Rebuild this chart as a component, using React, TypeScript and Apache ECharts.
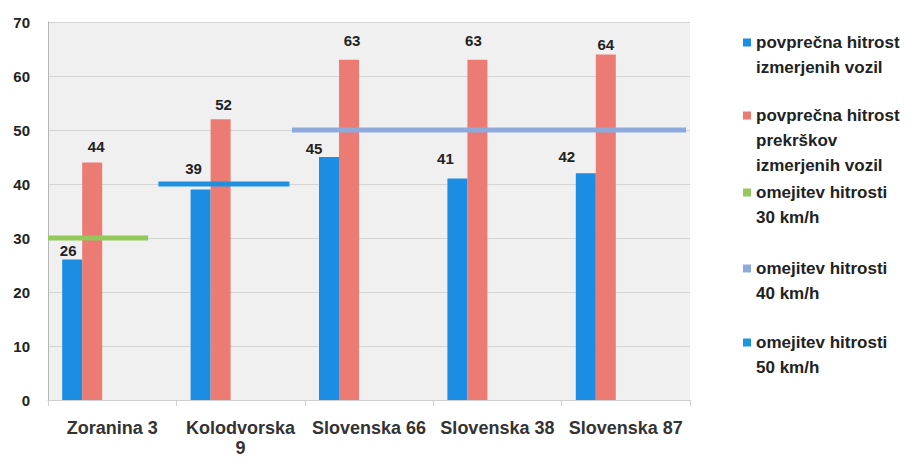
import React, { useEffect, useRef } from "react";
import * as echarts from "echarts";

const categories = ["Zoranina 3", "Kolodvorska 9", "Slovenska 66", "Slovenska 38", "Slovenska 87"];
const avgSpeed = [26, 39, 45, 41, 42];
const avgViolationSpeed = [44, 52, 63, 63, 64];
const yTicks = { min: 0, max: 70, step: 10 };

// speed-limit segments: [x on a 0..5 category scale, km/h]
const limit30 = [[0, 30], [0.78, 30]];
const limit40 = [[0.86, 40], [1.88, 40]];
const limit50 = [[1.9, 50], [4.97, 50]];

const seriesNames = [
  "povprečna hitrost izmerjenih vozil",
  "povprečna hitrost prekrškov izmerjenih vozil",
  "omejitev hitrosti 30 km/h",
  "omejitev hitrosti 40 km/h",
  "omejitev hitrosti 50 km/h",
];
const legendLines = [
  ["povprečna hitrost", "izmerjenih vozil"],
  ["povprečna hitrost", "prekrškov", "izmerjenih vozil"],
  ["omejitev hitrosti", "30 km/h"],
  ["omejitev hitrosti", "40 km/h"],
  ["omejitev hitrosti", "50 km/h"],
];

// styling
const blueLabelOffsets = [[-4, -2], [-7, -13], [-15, -1], [-12, -13], [-19, -9]];
const redLabelOffsets = [[4, -8], [3, -7], [3, -12], [-4, -12], [0, -2]];
const legendTops = [30, 103, 180, 256, 330];
const legendIconColors = ["#1b8de2", "#ec7b74", "#93c85a", "#8eaadb", "#1b95e0"];
const lineColors = ["#93c85a", "#1f8fe0", "#8eaadb"];

const FONT = "Liberation Sans";
const LINE_H = 25;

function legendIcon(lines: number) {
  const h = lines * LINE_H;
  return `path://M0,8.5h8v8h-8z M0,0h0.01v0.01h-0.01z M0,${h - 0.01}h0.01v0.01h-0.01z`;
}

export default function App() {
  const ref = useRef<HTMLDivElement>(null);

  useEffect(() => {
    if (!ref.current) return;
    const chart = echarts.init(ref.current, undefined, { renderer: "svg" });

    const labelStyle = {
      show: true,
      position: "top" as const,
      distance: 0,
      fontFamily: FONT,
      fontWeight: "bold" as const,
      fontSize: 15,
      color: "#222",
    };

    const legends = seriesNames.map((name, i) => ({
      show: true,
      orient: "vertical" as const,
      left: 743,
      top: legendTops[i],
      padding: 0,
      itemWidth: 8,
      itemHeight: legendLines[i].length * LINE_H,
      selectedMode: false,
      icon: legendIcon(legendLines[i].length),
      data: [{ name, itemStyle: { color: legendIconColors[i], borderWidth: 0 } }],
      formatter: () => legendLines[i].join("\n"),
      textStyle: {
        fontFamily: FONT,
        fontWeight: "bold" as const,
        fontSize: 17,
        lineHeight: LINE_H,
        color: "#222",
      },
    }));

    const placeholder = (n: string) => ({
      name: n,
      type: "bar" as const,
      xAxisIndex: 0,
      yAxisIndex: 0,
      barWidth: 20,
      barGap: "0%",
      data: categories.map(() => null),
      silent: true,
    });

    const limitSeries = (name: string, data: number[][], color: string) => ({
      name,
      type: "line" as const,
      xAxisIndex: 1,
      yAxisIndex: 0,
      data,
      symbol: "none",
      silent: true,
      itemStyle: { color },
      lineStyle: { color, width: 5, cap: "butt" as const },
      z: 5,
    });

    chart.setOption({
      animation: false,
      backgroundColor: "#ffffff",
      legend: legends,
      grid: {
        left: 48,
        right: 219,
        top: 22,
        bottom: 53,
        show: true,
        backgroundColor: "#f0f0f0",
        borderWidth: 0,
      },
      xAxis: [
        {
          type: "category",
          data: categories,
          boundaryGap: true,
          axisLine: { show: true, lineStyle: { color: "#cfcfcf" } },
          axisTick: { show: true, length: 6, lineStyle: { color: "#cfcfcf" } },
          axisLabel: {
            margin: 18,
            interval: 0,
            fontFamily: FONT,
            fontWeight: "bold",
            fontSize: 18,
            lineHeight: 20,
            color: "#333",
            formatter: (v: string) => v.replace("Kolodvorska ", "Kolodvorska\n"),
          },
        },
        { type: "value", min: 0, max: 5, show: false },
      ],
      yAxis: {
        type: "value",
        min: yTicks.min,
        max: yTicks.max,
        interval: yTicks.step,
        axisLine: { show: true, lineStyle: { color: "#b5b5b5" } },
        axisTick: { show: false },
        splitLine: { lineStyle: { color: "#d4d4d4", width: 1 } },
        axisLabel: {
          margin: 18,
          fontFamily: FONT,
          fontWeight: "bold",
          fontSize: 15,
          color: "#222",
        },
      },
      series: [
        {
          name: seriesNames[0],
          type: "bar",
          barWidth: 20,
          barGap: "0%",
          itemStyle: { color: "#1b8de2" },
          data: avgSpeed.map((v, i) => ({
            value: v,
            label: { ...labelStyle, offset: blueLabelOffsets[i] },
          })),
          z: 3,
        },
        {
          name: seriesNames[1],
          type: "bar",
          barWidth: 20,
          barGap: "0%",
          itemStyle: { color: "#ec7b74" },
          data: avgViolationSpeed.map((v, i) => ({
            value: v,
            label: { ...labelStyle, offset: redLabelOffsets[i] },
          })),
          z: 3,
        },
        placeholder("_slot30"),
        placeholder("_slot40"),
        placeholder("_slot50"),
        limitSeries(seriesNames[2], limit30, lineColors[0]),
        limitSeries(seriesNames[3], limit40, lineColors[1]),
        limitSeries(seriesNames[4], limit50, lineColors[2]),
      ],
    });

    return () => chart.dispose();
  }, []);

  return (
    <div
      ref={ref}
      style={{ position: "fixed", left: 0, top: 0, width: 909, height: 458 }}
    />
  );
}
